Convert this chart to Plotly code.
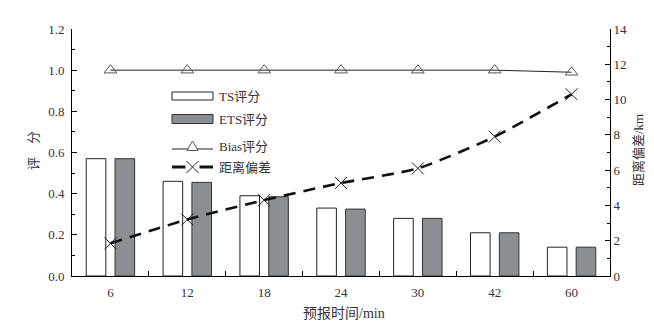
import plotly.graph_objects as go

categories = ["6", "12", "18", "24", "30", "42", "60"]
ts_score = [0.57, 0.46, 0.39, 0.33, 0.28, 0.21, 0.14]
ets_score = [0.57, 0.455, 0.385, 0.325, 0.28, 0.21, 0.14]
bias_score = [1.0, 1.0, 1.0, 1.0, 1.0, 1.0, 0.99]
dist_err = [1.85, 3.2, 4.3, 5.27, 6.1, 7.9, 10.3]
legend_names = ["TS评分", "ETS评分", "Bias评分", "距离偏差"]
x_title = "预报时间/min"
y_title = "评\u3000分"
y2_title = "距离偏差/km"

FONT = "Liberation Serif, Noto Sans CJK SC, serif"
TXT = "#333333"
ETS_COLOR = "#8a8f94"

W, H = 654, 323
ML, MR, MT, MB = 72, 44, 29, 47
PW, PH = W - ML - MR, H - MT - MB


def px(x):
    return (x - ML) / PW


def py(y):
    return (H - MB - y) / PH


fig = go.Figure()
fig.add_trace(go.Bar(x=categories, y=ts_score, name=legend_names[0],
                     marker=dict(color="white", line=dict(color="#222222", width=1))))
fig.add_trace(go.Bar(x=categories, y=ets_score, name=legend_names[1],
                     marker=dict(color=ETS_COLOR, line=dict(color="#333333", width=1))))
fig.add_trace(go.Scatter(x=categories, y=bias_score, name=legend_names[2], mode="lines+markers",
                         line=dict(color="#222222", width=1),
                         marker=dict(symbol="triangle-up-open", size=11, color="#555555",
                                     line=dict(width=1))))
fig.add_trace(go.Scatter(x=categories, y=dist_err, name=legend_names[3], mode="lines+markers",
                         yaxis="y2",
                         line=dict(color="#111111", width=2.6, dash="12px,8px", shape="spline",
                                   smoothing=0.6),
                         marker=dict(symbol="x-thin-open", size=12, color="#222222",
                                     line=dict(width=1, color="#222222"))))

# custom legend (pixel-positioned decoration, converted to paper coords)
shapes = []
annos = []
sx0, sx1, tx = 172, 213, 217
rows = [96, 119, 146, 167]
shapes.append(dict(type="rect", xref="paper", yref="paper", x0=px(sx0), x1=px(sx1),
                   y0=py(rows[0] + 4), y1=py(rows[0] - 4),
                   line=dict(color="#222222", width=1), fillcolor="white"))
shapes.append(dict(type="rect", xref="paper", yref="paper", x0=px(sx0), x1=px(sx1),
                   y0=py(rows[1] + 4.5), y1=py(rows[1] - 4.5),
                   line=dict(color="#333333", width=1), fillcolor=ETS_COLOR))
shapes.append(dict(type="line", xref="paper", yref="paper", x0=px(sx0), x1=px(sx1),
                   y0=py(rows[2] + 3), y1=py(rows[2] + 3),
                   line=dict(color="#222222", width=1)))
cx = (sx0 + sx1) / 2
tri = "M {:.5f} {:.5f} L {:.5f} {:.5f} L {:.5f} {:.5f} Z".format(
    px(cx - 5.5), py(rows[2] + 4.5), px(cx + 5.5), py(rows[2] + 4.5), px(cx), py(rows[2] - 5))
shapes.append(dict(type="path", xref="paper", yref="paper", path=tri,
                   line=dict(color="#555555", width=1), fillcolor="white"))
shapes.append(dict(type="line", xref="paper", yref="paper", x0=px(sx0), x1=px(cx - 7),
                   y0=py(rows[3]), y1=py(rows[3]), line=dict(color="#111111", width=3)))
shapes.append(dict(type="line", xref="paper", yref="paper", x0=px(cx + 7), x1=px(sx1),
                   y0=py(rows[3]), y1=py(rows[3]), line=dict(color="#111111", width=3)))
for d in (1, -1):
    shapes.append(dict(type="line", xref="paper", yref="paper", x0=px(cx - 6), x1=px(cx + 6),
                       y0=py(rows[3] - 6 * d), y1=py(rows[3] + 6 * d),
                       line=dict(color="#222222", width=1)))
for name, r in zip(legend_names, rows):
    annos.append(dict(xref="paper", yref="paper", x=px(tx), y=py(r), text=name,
                      showarrow=False, xanchor="left", yanchor="middle",
                      font=dict(family=FONT, size=13, color=TXT)))

# axis titles as annotations
annos.append(dict(xref="paper", yref="paper", x=px(344), y=py(313), text=x_title,
                  showarrow=False, xanchor="center", yanchor="middle",
                  font=dict(family=FONT, size=14, color=TXT)))
annos.append(dict(xref="paper", yref="paper", x=px(33), y=py(151), text=y_title,
                  showarrow=False, xanchor="center", yanchor="middle", textangle=-90,
                  font=dict(family=FONT, size=13, color=TXT)))
annos.append(dict(xref="paper", yref="paper", x=px(638), y=py(150), text=y2_title,
                  showarrow=False, xanchor="center", yanchor="middle", textangle=-90,
                  font=dict(family=FONT, size=13, color=TXT)))

fig.update_layout(
    width=W, height=H,
    margin=dict(l=ML, r=MR, t=MT, b=MB, autoexpand=False),
    paper_bgcolor="white", plot_bgcolor="white",
    font=dict(family=FONT, size=13, color=TXT),
    barmode="group", bargap=0.25, bargroupgap=0.32,
    showlegend=False,
    shapes=shapes, annotations=annos,
    xaxis=dict(type="category", showline=True, linecolor="black", linewidth=1,
               ticks="inside", tickson="boundaries", ticklen=5, tickcolor="black",
               showgrid=False, zeroline=False, ticklabelstandoff=4, automargin=False),
    yaxis=dict(range=[0, 1.2], dtick=0.2, tickformat=".1f", showline=True, linecolor="black",
               linewidth=1, ticks="inside", ticklen=5, tickcolor="black", showgrid=False,
               zeroline=False, ticklabelstandoff=4, automargin=False,
               minor=dict(dtick=0.1, ticks="inside", ticklen=3, tickcolor="black")),
    yaxis2=dict(range=[0, 14], dtick=2, overlaying="y", side="right", showline=True,
                linecolor="black", linewidth=1, ticks="inside", ticklen=5, tickcolor="black",
                showgrid=False, zeroline=False, automargin=False,
                minor=dict(dtick=1, ticks="inside", ticklen=3, tickcolor="black")),
)

fig.write_html("out.html", config={"displayModeBar": False},
               post_script="document.body.style.margin='0';")
